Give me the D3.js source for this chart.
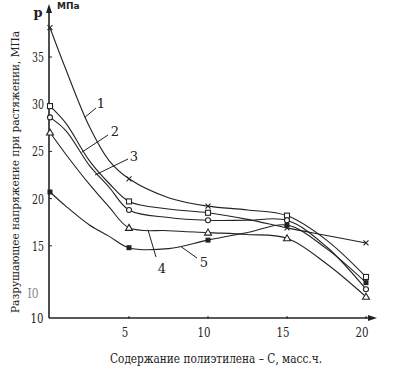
<!DOCTYPE html>
<html>
<head>
<meta charset="utf-8">
<script src="https://cdn.jsdelivr.net/npm/d3@7"></script>
<style>
  body { margin: 0; background: #fff; }
</style>
</head>
<body>
<div id="chart"></div>
<script>
// Content of polyethylene, mass parts
const contents = [0, 1, 2.5, 3.75, 5, 7.5, 10, 12.5, 15, 17.5, 20];
// positions where the original marks its measured points
const markerContents = [0, 5, 10, 15, 20];

// Breaking stress at tension, MPa
const curve1 = [38.1, 33.7, 27.6, 24.0, 22.1, 20.1, 19.2, 18.8, 18.2, 15.6, 11.7];
const curve2 = [29.8, 28.0, 24.0, 21.6, 19.7, 18.9, 18.5, 17.8, 16.9, 16.1, 15.3];
const curve3 = [28.6, 27.2, 23.5, 21.2, 18.8, 18.0, 17.7, 17.7, 17.7, 14.9, 10.4];
const curve4 = [27.0, 24.7, 21.5, 19.1, 16.9, 16.6, 16.4, 16.2, 15.8, 13.1, 9.6];
const curve5 = [20.7, 19.2, 17.2, 16.0, 14.8, 14.7, 15.6, 16.4, 17.2, 14.7, 11.1];

// marker drawn at each measured point
const markers1 = ["cross", "cross", "cross", "square", "square"];
const markers2 = ["square", "square", "square", "cross", "cross"];
const markers3 = ["circle", "circle", "circle", "circle", "circle"];
const markers4 = ["triangle", "triangle", "triangle", "triangle", "triangle"];
const markers5 = ["filled", "filled", "filled", "filled", "filled"];

const curveNames = ["1", "2", "3", "4", "5"];

const xTicks = [5, 10, 15, 20];
const yTicks = [15, 20, 25, 30, 35];
const yTickLabels = ["15", "20", "25", "30", "35"];

const width = 401;
const height = 372;
const serif = "'DejaVu Serif', serif";

const x = d3.scaleLinear().domain([0, 20]).range([50, 366]);
const y = d3.scaleLinear().domain([10, 35]).range([293, 57]);

const svg = d3.select("#chart")
    .append("svg")
    .attr("width", width)
    .attr("height", height);

const ink = "#222";
const axisY0 = 318; // bottom of the axis (below value 10, broken scale)

function addText(sel, str, size) {
    return sel.append("text")
        .attr("font-family", serif)
        .attr("font-size", size)
        .attr("fill", ink)
        .text(str);
}

// Axes with arrows
svg.append("line")
    .attr("x1", x(0) - 1).attr("x2", x(0) - 1)
    .attr("y1", axisY0).attr("y2", 8)
    .attr("stroke", ink).attr("stroke-width", 1.6);
svg.append("path")
    .attr("d", `M${x(0) - 1},4 L${x(0) - 4},13 L${x(0) + 2},13 Z`)
    .attr("fill", ink);

svg.append("line")
    .attr("x1", x(0) - 1).attr("x2", 372)
    .attr("y1", axisY0).attr("y2", axisY0)
    .attr("stroke", ink).attr("stroke-width", 1.4);
svg.append("path")
    .attr("d", `M377,${axisY0} L368,${axisY0 - 3} L368,${axisY0 + 3} Z`)
    .attr("fill", ink);

// x ticks
svg.selectAll(".xtick")
    .data(xTicks)
    .enter()
    .append("line")
    .attr("x1", d => x(d)).attr("x2", d => x(d))
    .attr("y1", axisY0 - 2).attr("y2", axisY0 + 1)
    .attr("stroke", ink);

xTicks.forEach(d => {
    addText(svg, String(d), 13)
        .attr("x", x(d) - 4)
        .attr("y", 337)
        .attr("text-anchor", "middle")
        .attr("textLength", String(d).length * 6.5)
        .attr("lengthAdjust", "spacingAndGlyphs");
});

// y ticks
svg.selectAll(".ytick")
    .data(yTicks)
    .enter()
    .append("line")
    .attr("x1", x(0) - 1).attr("x2", x(0) + 2)
    .attr("y1", d => y(d)).attr("y2", d => y(d))
    .attr("stroke", ink);

yTicks.forEach((d, i) => {
    addText(svg, yTickLabels[i], 13)
        .attr("x", 38)
        .attr("y", y(d) + 5)
        .attr("text-anchor", "middle")
        .attr("textLength", 12)
        .attr("lengthAdjust", "spacingAndGlyphs");
});

addText(svg, "I0", 13)
    .attr("x", 33).attr("y", y(10) + 5)
    .attr("text-anchor", "middle")
    .attr("fill", "#888")
    .attr("textLength", 11)
    .attr("lengthAdjust", "spacingAndGlyphs");

addText(svg, "10", 13)
    .attr("x", 37).attr("y", axisY0 + 5)
    .attr("text-anchor", "middle")
    .attr("textLength", 13)
    .attr("lengthAdjust", "spacingAndGlyphs");

// axis symbol and unit
addText(svg, "р", 13)
    .attr("x", 38).attr("y", 17)
    .attr("text-anchor", "middle")
    .attr("font-weight", "bold");
svg.append("text")
    .attr("x", 57).attr("y", 9)
    .attr("font-family", "'DejaVu Sans', sans-serif")
    .attr("font-size", 9)
    .attr("font-weight", "bold")
    .attr("fill", ink)
    .text("МПа");

// axis titles
addText(svg, "Разрушающее напряжение при растяжении, МПа", 11.5)
    .attr("transform", "translate(19,172) rotate(-90)")
    .attr("text-anchor", "middle")
    .attr("textLength", 282)
    .attr("lengthAdjust", "spacingAndGlyphs");

addText(svg, "Содержание полиэтилена – С, масс.ч.", 13)
    .attr("x", 216).attr("y", 363)
    .attr("text-anchor", "middle")
    .attr("textLength", 212)
    .attr("lengthAdjust", "spacingAndGlyphs");

// curves
const series = [curve1, curve2, curve3, curve4, curve5].map((vals, i) => ({
    name: curveNames[i],
    markers: [markers1, markers2, markers3, markers4, markers5][i],
    points: vals.map((v, j) => ({ c: contents[j], v: v }))
}));

const line = d3.line()
    .x(d => x(d.c))
    .y(d => y(d.v))
    .curve(d3.curveCatmullRom.alpha(0.5));

svg.selectAll(".curve")
    .data(series)
    .enter()
    .append("path")
    .attr("d", d => line(d.points))
    .attr("fill", "none")
    .attr("stroke", ink)
    .attr("stroke-width", 1.1);

// markers
function drawMarker(g, type, px, py) {
    if (type === "cross") {
        g.append("path")
            .attr("d", `M${px - 2.5},${py - 2.5}L${px + 2.5},${py + 2.5}M${px - 2.5},${py + 2.5}L${px + 2.5},${py - 2.5}`)
            .attr("stroke", ink).attr("stroke-width", 1.1);
    } else if (type === "square") {
        g.append("rect")
            .attr("x", px - 2.5).attr("y", py - 2.5)
            .attr("width", 5).attr("height", 5)
            .attr("fill", "#fff").attr("stroke", ink).attr("stroke-width", 1.1);
    } else if (type === "circle") {
        g.append("circle")
            .attr("cx", px).attr("cy", py).attr("r", 2.5)
            .attr("fill", "#fff").attr("stroke", ink).attr("stroke-width", 1.1);
    } else if (type === "triangle") {
        g.append("path")
            .attr("d", `M${px},${py - 3.5}L${px + 3.5},${py + 2.5}L${px - 3.5},${py + 2.5}Z`)
            .attr("fill", "#fff").attr("stroke", ink).attr("stroke-width", 1.1);
    } else {
        g.append("rect")
            .attr("x", px - 2.5).attr("y", py - 2.5)
            .attr("width", 5).attr("height", 5)
            .attr("fill", ink);
    }
}

const markerLayer = svg.append("g");
series.forEach(s => {
    s.points
        .filter(p => markerContents.includes(p.c))
        .forEach((p, k) => drawMarker(markerLayer, s.markers[k], x(p.c), y(p.v)));
});

// curve labels with leader lines (anchor in data units, label in pixels)
const labelAnchors = [
    { c: 2.2, v: 28.6, lx: 96, ly: 108, tx: 101, ty: 108 },
    { c: 2.0, v: 24.9, lx: 108, ly: 135, tx: 115, ty: 136 },
    { c: 2.85, v: 22.5, lx: 128, ly: 159, tx: 134, ty: 161 },
    { c: 6.2, v: 16.7, lx: 156, ly: 257, tx: 162, ty: 273 },
    { c: 8.3, v: 14.9, lx: 197, ly: 258, tx: 204, ty: 267 }
];

labelAnchors.forEach((a, i) => {
    svg.append("line")
        .attr("x1", x(a.c)).attr("y1", y(a.v))
        .attr("x2", a.lx).attr("y2", a.ly)
        .attr("stroke", ink).attr("stroke-width", 1);
    addText(svg, curveNames[i], 13)
        .attr("x", a.tx).attr("y", a.ty)
        .attr("text-anchor", "middle");
});
</script>
</body>
</html>
